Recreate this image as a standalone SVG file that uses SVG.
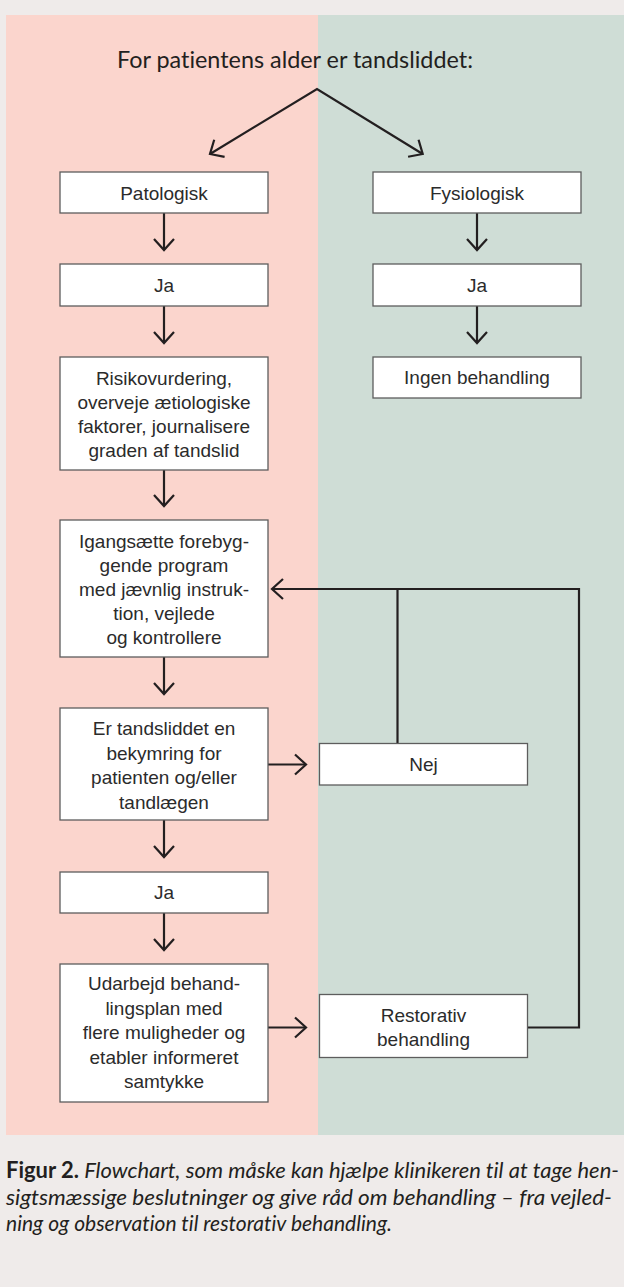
<svg xmlns="http://www.w3.org/2000/svg" width="624" height="1287" viewBox="0 0 624 1287">
<defs>
<style>
.box{fill:#ffffff;stroke:#5d5d5d;stroke-width:1.3}
.bt{font-family:"Liberation Sans",Arial,sans-serif;font-size:19px;fill:#2b2b2b;text-anchor:middle}
.con{fill:none;stroke:#231f20;stroke-width:2.2}
.arr{marker-end:url(#ah)}
.cap{font-family:Lato,"Open Sans",sans-serif;font-size:22px;fill:#231f20;font-variant-ligatures:none}
</style>
<marker id="ah" markerUnits="userSpaceOnUse" viewBox="-14 -12 16 24" refX="0" refY="0" markerWidth="16" markerHeight="24" orient="auto-start-reverse" overflow="visible">
<path d="M-11,-10 L0,0 L-11,10" fill="none" stroke="#231f20" stroke-width="2.2"/>
</marker>
</defs>
<rect width="624" height="1287" fill="#efebea"/>
<rect x="6" y="15" width="312" height="1120" fill="#fbd5cd"/>
<rect x="318" y="15" width="306" height="1120" fill="#cfddd6"/>
<text id="title" x="295" y="68" font-family="Lato, 'Open Sans', sans-serif" font-size="24" fill="#231f20" text-anchor="middle" textLength="356" lengthAdjust="spacingAndGlyphs" style="font-variant-ligatures:none">For patientens alder er tandsliddet:</text>
<g id="connectors" class="con">
<path d="M210,154 L317,89 L422.7,154" marker-start="url(#ah)" marker-end="url(#ah)"/>
<path class="arr" d="M164,213 V250"/>
<path class="arr" d="M164,306 V343"/>
<path class="arr" d="M164,470 V506"/>
<path class="arr" d="M164,657 V694"/>
<path class="arr" d="M164,820 V857"/>
<path class="arr" d="M164,913 V950"/>
<path class="arr" d="M477,213 V250"/>
<path class="arr" d="M477,306 V343"/>
<path class="arr" d="M268,764.5 H306"/>
<path class="arr" d="M268,1027.5 H306"/>
<path class="arr" d="M527.5,1027.5 H579 V589 H272"/>
<path d="M397.5,743.5 V589"/>
</g>
<g id="n-patologisk"><rect class="box" x="60" y="172" width="208" height="41"/><text class="bt" x="164" y="199.5">Patologisk</text></g>
<g id="n-fysiologisk"><rect class="box" x="373" y="172" width="208" height="41"/><text class="bt" x="477" y="199.5">Fysiologisk</text></g>
<g id="n-ja1"><rect class="box" x="60" y="264" width="208" height="42"/><text class="bt" x="164" y="291.5">Ja</text></g>
<g id="n-ja-right"><rect class="box" x="373" y="264" width="208" height="42"/><text class="bt" x="477" y="291.5">Ja</text></g>
<g id="n-risiko"><rect class="box" x="60" y="357" width="208" height="113"/><text class="bt" x="164" y="385"><tspan x="164" y="385">Risikovurdering,</tspan><tspan x="164" y="409">overveje ætiologiske</tspan><tspan x="164" y="433">faktorer, journalisere</tspan><tspan x="164" y="457">graden af tandslid</tspan></text></g>
<g id="n-ingen"><rect class="box" x="373" y="357" width="208" height="41"/><text class="bt" x="477" y="384">Ingen behandling</text></g>
<g id="n-igang"><rect class="box" x="60" y="520" width="208" height="137"/><text class="bt"><tspan x="164" y="548">Igangsætte forebyg-</tspan><tspan x="164" y="572">gende program</tspan><tspan x="164" y="596">med jævnlig instruk-</tspan><tspan x="164" y="620">tion, vejlede</tspan><tspan x="164" y="644">og kontrollere</tspan></text></g>
<g id="n-er"><rect class="box" x="60" y="708" width="208" height="112"/><text class="bt"><tspan x="164" y="735">Er tandsliddet en</tspan><tspan x="164" y="760">bekymring for</tspan><tspan x="164" y="784">patienten og/eller</tspan><tspan x="164" y="809">tandlægen</tspan></text></g>
<g id="n-nej"><rect class="box" x="319.5" y="743.5" width="208" height="41.5"/><text class="bt" x="423.5" y="771">Nej</text></g>
<g id="n-ja2"><rect class="box" x="60" y="872" width="208" height="41"/><text class="bt" x="164" y="899">Ja</text></g>
<g id="n-udarbejd"><rect class="box" x="60" y="964" width="208" height="138"/><text class="bt"><tspan x="164" y="990">Udarbejd behand-</tspan><tspan x="164" y="1015">lingsplan med</tspan><tspan x="164" y="1039">flere muligheder og</tspan><tspan x="164" y="1064">etabler informeret</tspan><tspan x="164" y="1088">samtykke</tspan></text></g>
<g id="n-restorativ"><rect class="box" x="319.5" y="994.5" width="208" height="63"/><text class="bt"><tspan x="423.5" y="1021.5">Restorativ</tspan><tspan x="423.5" y="1045.5">behandling</tspan></text></g>
<g id="caption">
<text class="cap" x="6" y="1178" textLength="613" lengthAdjust="spacingAndGlyphs"><tspan font-weight="bold">Figur 2.</tspan><tspan font-style="italic"> Flowchart, som måske kan hjælpe klinikeren til at tage hen-</tspan></text>
<text class="cap" x="6" y="1204.5" font-style="italic" textLength="606" lengthAdjust="spacingAndGlyphs">sigtsmæssige beslutninger og give råd om behandling – fra vejled-</text>
<text class="cap" x="6" y="1231" font-style="italic" textLength="386" lengthAdjust="spacingAndGlyphs">ning og observation til restorativ behandling.</text>
</g>
</svg>
